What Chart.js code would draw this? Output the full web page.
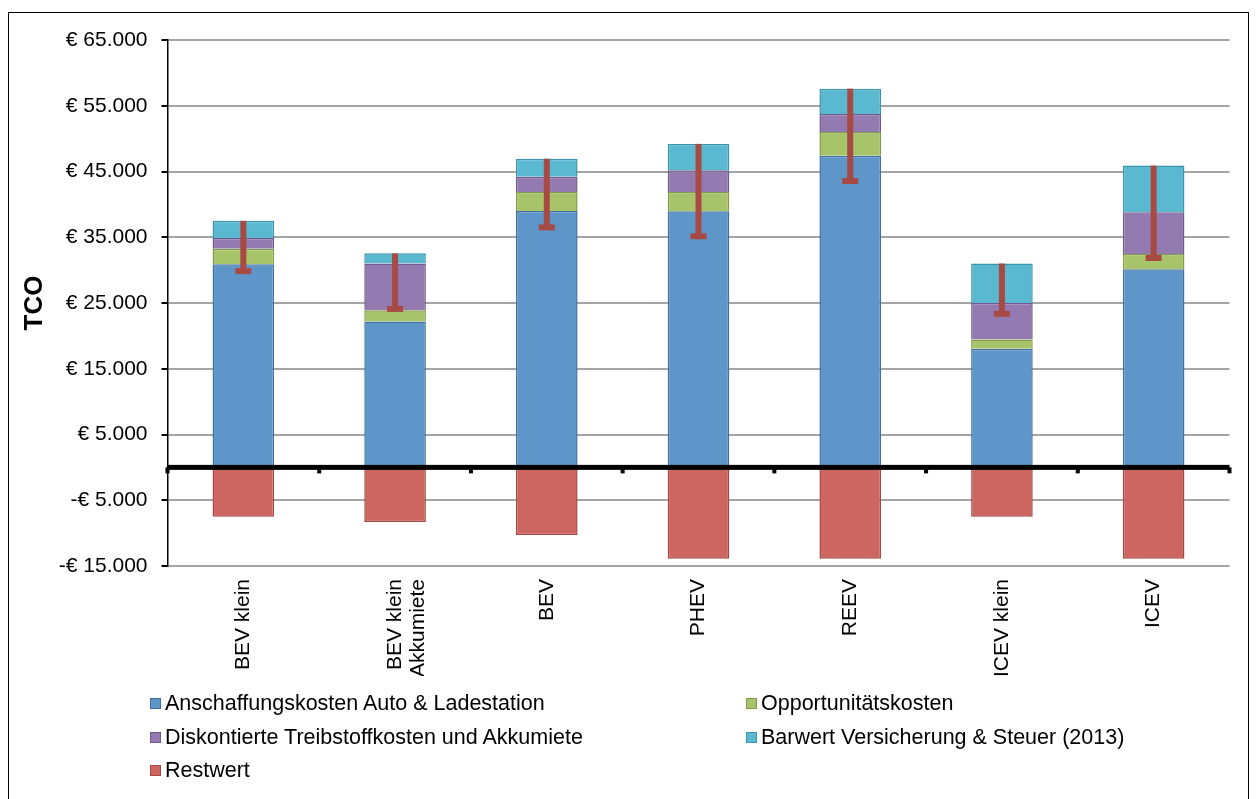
<!DOCTYPE html>
<html>
<head>
<meta charset="utf-8">
<script src="https://cdn.jsdelivr.net/npm/chart.js@4.4.1/dist/chart.umd.min.js"></script>
<style>
  body { margin: 0; background: #fff; font-family: "Liberation Sans", Arial, sans-serif; }
  #wrap { position: relative; width: 1257px; height: 799px; overflow: hidden; }
  #frame { position: absolute; left: 8px; top: 12px; width: 1241px; height: 800px; border: 1.5px solid #000; box-sizing: border-box; }
  canvas { position: absolute; left: 0; top: 0; }
  #legend { position: absolute; left: 0; top: 0; width: 1257px; height: 799px; pointer-events: none; }
  .item { position: absolute; display: flex; align-items: center; font-size: 21.5px; color: #000; white-space: nowrap; }
  .box { width: 9px; height: 9px; border: 1px solid; margin-right: 4px; }
</style>
</head>
<body>
<div id="wrap">
  <div id="frame"></div>
  <canvas id="c" width="1257" height="799"></canvas>
  <div id="legend"></div>
</div>
<script>
const categories = [['BEV klein'], ['BEV klein', 'Akkumiete'], ['BEV'], ['PHEV'], ['REEV'], ['ICEV klein'], ['ICEV']]
const anschaffung = [30900, 22200, 39000, 38950, 47400, 18050, 30150]
const opportunitaet = [2350, 1700, 2900, 2950, 3600, 1400, 2300]
const treibstoff = [1650, 7100, 2300, 3300, 2750, 5550, 6350]
const versicherung = [2600, 1550, 2750, 4000, 3850, 6000, 7100]
const restwert = [-7500, -8300, -10300, -13900, -13900, -7500, -13900]
const yTicks = [-15000, -5000, 5000, 15000, 25000, 35000, 45000, 55000, 65000]

const series = [
  { label: 'Anschaffungskosten Auto & Ladestation', data: anschaffung, fill: '#5f96c9', line: '#41709f' },
  { label: 'Opportunitätskosten', data: opportunitaet, fill: '#a8c46a', line: '#809c48' },
  { label: 'Diskontierte Treibstoffkosten und Akkumiete', data: treibstoff, fill: '#937bb1', line: '#6e5a8d' },
  { label: 'Barwert Versicherung & Steuer (2013)', data: versicherung, fill: '#5bb8d1', line: '#3a94ab' },
  { label: 'Restwert', data: restwert, fill: '#cd6660', line: '#a44641' }
]

const fmt = v => Math.abs(v).toString().replace(/\B(?=(\d{3})+(?!\d))/g, '.')

// Zero line with category tick marks, and the net-TCO range markers
const extras = {
  id: 'extras',
  afterDatasetsDraw(chart) {
    const { ctx, scales: { x, y } } = chart
    ctx.save()
    // range markers: from stack top down to total minus residual value
    categories.forEach((_, i) => {
      const top = anschaffung[i] + opportunitaet[i] + treibstoff[i] + versicherung[i]
      const net = top + restwert[i]
      const px = x.getPixelForValue(i)
      const yt = y.getPixelForValue(top)
      const yn = y.getPixelForValue(net)
      ctx.fillStyle = '#a84a44'
      ctx.fillRect(px - 3, yt, 6, yn - yt)
      ctx.fillRect(px - 8, yn - 2, 16, 6)
    })
    // thick zero axis
    const y0 = y.getPixelForValue(0)
    ctx.fillStyle = '#000'
    ctx.fillRect(x.left, y0 - 2.5, x.right - x.left, 5)
    const step = (x.right - x.left) / categories.length
    for (let k = 0; k <= categories.length; k++) {
      const px = x.left + k * step
      ctx.fillRect(px - 2, y0, 4, 6)
    }
    ctx.restore()
  }
}

new Chart(document.getElementById('c'), {
  type: 'bar',
  data: {
    labels: categories,
    datasets: series.map(s => ({
      label: s.label, data: s.data, backgroundColor: s.fill, borderColor: s.line,
      borderWidth: 1.5, barPercentage: 0.406, categoryPercentage: 1, stack: 'tco'
    }))
  },
  options: {
    responsive: false,
    animation: false,
    layout: { padding: { left: 10, right: 27.5, top: 40, bottom: 123 } },
    plugins: { legend: { display: false }, tooltip: { enabled: false } },
    scales: {
      x: {
        stacked: true,
        afterFit: s => { s.height = 110 },
        grid: { display: false, drawTicks: false },
        border: { display: false },
        ticks: { minRotation: 90, maxRotation: 90, padding: 13, color: '#000', font: { family: 'Liberation Sans', size: 21, lineHeight: 1.1 } }
      },
      y: {
        stacked: true,
        min: -15000, max: 65000,
        afterFit: s => { s.width = 157.5 },
        afterBuildTicks: s => { s.ticks = yTicks.map(v => ({ value: v })) },
        title: { display: true, text: 'TCO', padding: { top: 9, bottom: 0 }, color: '#000', font: { family: 'Liberation Sans', size: 26, weight: 'bold' } },
        grid: { color: '#a5a5a5', lineWidth: 2, tickColor: '#000', tickLength: 6 },
        border: { color: '#000', width: 1.5 },
        ticks: { padding: 14, color: '#000', font: { family: 'Liberation Sans', size: 21 }, callback: v => (v < 0 ? '-€ ' : '€ ') + fmt(v) }
      }
    }
  },
  plugins: [extras]
})

// legend laid out in two columns as in the reference
const legendPos = [[150, 703], [746, 703], [150, 737], [746, 737], [150, 770]]
const legend = document.getElementById('legend')
series.forEach((s, i) => {
  const el = document.createElement('div')
  el.className = 'item'
  el.style.left = legendPos[i][0] + 'px'
  el.style.top = (legendPos[i][1] - 12) + 'px'
  el.innerHTML = '<span class="box" style="background:' + s.fill + ';border-color:' + s.line + '"></span>' + s.label
  legend.appendChild(el)
})
</script>
</body>
</html>
